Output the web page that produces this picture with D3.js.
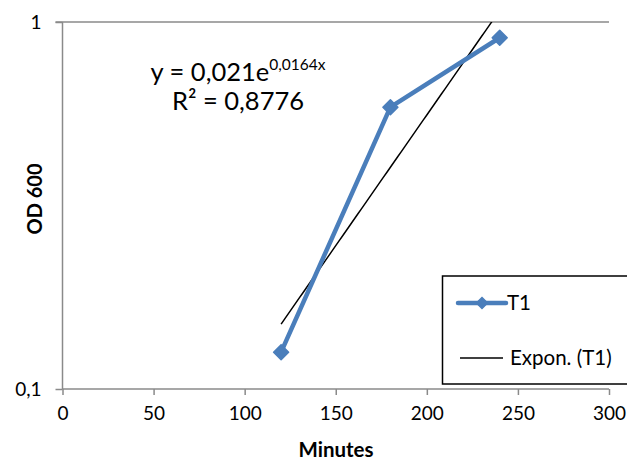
<!DOCTYPE html>
<html><head><meta charset="utf-8">
<script src="https://cdn.jsdelivr.net/npm/d3@7"></script>
<style>
body{margin:0;background:#fff;}
svg{display:block;font-family:Lato,"Open Sans",sans-serif;}
</style></head>
<body>
<svg id="c" width="627" height="462"></svg>
<script>
// Data
const minutes = [120, 180, 240];
const od600 = [0.126, 0.586, 0.906];
const xTicks = [0, 50, 100, 150, 200, 250, 300];
const yTicks = [0.1, 1];
const trendA = 0.021, trendB = 0.0164;
const trendRange = [120, 240];
const seriesName = "T1";
const trendName = "Expon. (T1)";

const svg = d3.select("#c");
const L = 62.5, R = 609, T = 22, B = 389;
const x = d3.scaleLinear().domain([0, 300]).range([L, R]);
const y = d3.scaleLog().domain([0.1, 1]).range([B, T]);
const fmt = d => String(d).replace(".", ",");
const axisColor = "#8a8a8a";

// top gridline
svg.append("line").attr("x1", L - 7).attr("x2", R).attr("y1", y(1)).attr("y2", y(1))
  .attr("stroke", axisColor).attr("stroke-width", 1.5);

// x axis
const gx = svg.append("g").attr("transform", `translate(0,${B})`)
  .call(d3.axisBottom(x).tickValues(xTicks).tickSize(6).tickPadding(12).tickFormat(d => d));
gx.select(".domain").attr("stroke", axisColor).attr("stroke-width", 1.5).attr("d", `M${L},0H${R}`);
gx.selectAll(".tick line").attr("stroke", axisColor).attr("stroke-width", 1.5);
gx.selectAll(".tick text").attr("font-size", 19).attr("fill", "#000").attr("font-family", "Lato");

// y axis
const gy = svg.append("g").attr("transform", `translate(${L},0)`)
  .call(d3.axisLeft(y).tickValues(yTicks).tickSize(7).tickPadding(14).tickFormat(fmt));
gy.select(".domain").attr("stroke", axisColor).attr("stroke-width", 1.5).attr("d", `M0,${T}V${B}`);
gy.selectAll(".tick line").attr("stroke", axisColor).attr("stroke-width", 1.5);
gy.selectAll(".tick text").attr("font-size", 19).attr("fill", "#000").attr("font-family", "Lato");

// clip
svg.append("clipPath").attr("id", "plot").append("rect")
  .attr("x", L).attr("y", T).attr("width", R - L).attr("height", B - T);

// trendline
const trendPts = d3.range(trendRange[0], trendRange[1] + 0.01, 2).map(t => [t, trendA * Math.exp(trendB * t)]);
svg.append("path").attr("clip-path", "url(#plot)")
  .attr("d", d3.line().x(d => x(d[0])).y(d => y(d[1]))(trendPts))
  .attr("fill", "none").attr("stroke", "#000").attr("stroke-width", 1.5);

// series
const color = "#4a7ebb";
const pts = minutes.map((m, i) => [m, od600[i]]);
svg.append("path").attr("d", d3.line().x(d => x(d[0])).y(d => y(d[1]))(pts))
  .attr("fill", "none").attr("stroke", color).attr("stroke-width", 4.5).attr("stroke-linejoin", "round");
const diamond = r => `M0,${-r}L${r},0L0,${r}L${-r},0Z`;
svg.selectAll(".mk").data(pts).enter().append("path")
  .attr("transform", d => `translate(${x(d[0])},${y(d[1])})`)
  .attr("d", diamond(7.5)).attr("fill", color).attr("stroke", color).attr("stroke-width", 1.5).attr("stroke-linejoin", "round");

// equation
const eq = svg.append("text").attr("x", 238).attr("y", 81).attr("text-anchor", "middle")
  .attr("font-size", 25.5).attr("fill", "#000");
eq.append("tspan").text(`y = ${fmt(trendA)}e`);
eq.append("tspan").attr("font-size", 15.5).attr("dy", -11).text(`${fmt(trendB)}x`);
svg.append("text").attr("x", 238).attr("y", 110).attr("text-anchor", "middle")
  .attr("font-size", 25.5).attr("fill", "#000").text("R² = 0,8776");

// axis titles
svg.append("text").attr("x", 336).attr("y", 457).attr("text-anchor", "middle")
  .attr("font-size", 20.5).attr("font-weight", "bold").text("Minutes");
svg.append("text").attr("transform", "translate(42,199) rotate(-90)").attr("text-anchor", "middle")
  .attr("font-size", 20).attr("font-weight", "bold").text("OD 600");

// legend
const lg = svg.append("g");
lg.append("rect").attr("x", 442.5).attr("y", 276).attr("width", 220).attr("height", 108)
  .attr("fill", "#fff").attr("stroke", "#000").attr("stroke-width", 1.5);
lg.append("line").attr("x1", 458).attr("x2", 506).attr("y1", 303).attr("y2", 303)
  .attr("stroke", color).attr("stroke-width", 4.5).attr("stroke-linecap", "round");
lg.append("path").attr("transform", "translate(482,303)").attr("d", diamond(5.5))
  .attr("fill", color).attr("stroke", color).attr("stroke-width", 1.5);
lg.append("text").attr("x", 507).attr("y", 303).attr("dy", "0.36em").attr("font-size", 20.5).text(seriesName);
lg.append("line").attr("x1", 460).attr("x2", 503).attr("y1", 358).attr("y2", 358)
  .attr("stroke", "#000").attr("stroke-width", 1.5);
lg.append("text").attr("x", 510).attr("y", 358).attr("dy", "0.36em").attr("font-size", 20.5).text(trendName);
</script>
</body></html>
